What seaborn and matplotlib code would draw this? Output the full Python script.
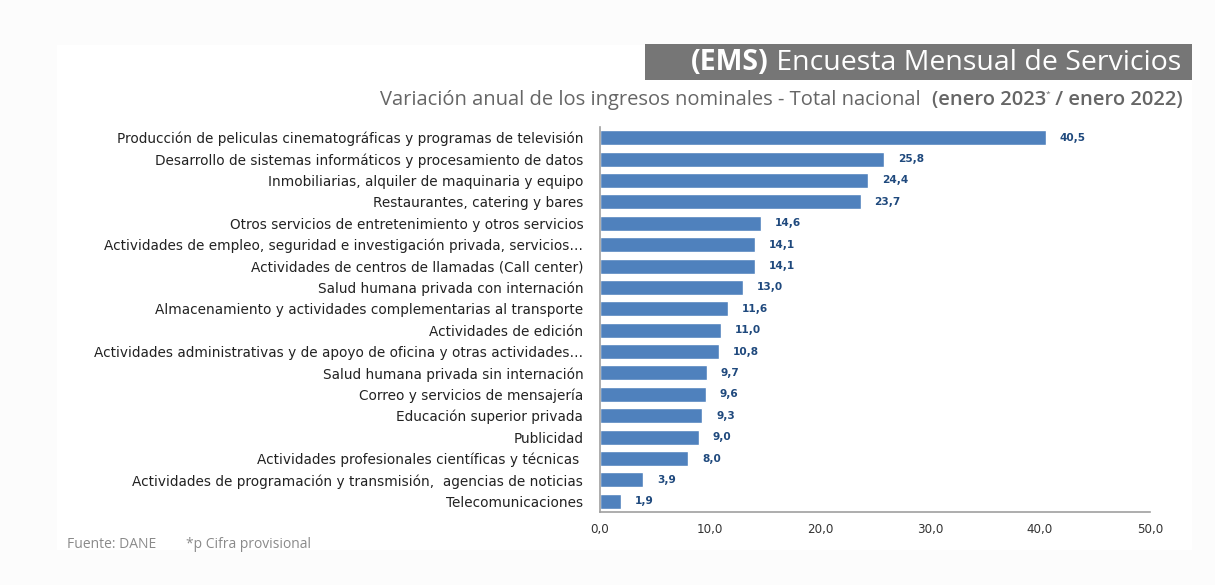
import matplotlib
matplotlib.use("Agg")
import matplotlib.pyplot as plt
import matplotlib.patches as mpatches
import seaborn as sns
import pandas as pd
import numpy as np

# Datos (variacion anual %, enero 2023p / enero 2022)
actividades = [
    "Producción de peliculas cinematográficas y programas de televisión",
    "Desarrollo de sistemas informáticos y procesamiento de datos",
    "Inmobiliarias, alquiler de maquinaria y equipo",
    "Restaurantes, catering y bares",
    "Otros servicios de entretenimiento y otros servicios",
    "Actividades de empleo, seguridad e investigación privada, servicios…",
    "Actividades de centros de llamadas (Call center)",
    "Salud humana privada con internación",
    "Almacenamiento y actividades complementarias al transporte",
    "Actividades de edición",
    "Actividades administrativas y de apoyo de oficina y otras actividades…",
    "Salud humana privada sin internación",
    "Correo y servicios de mensajería",
    "Educación superior privada",
    "Publicidad",
    "Actividades profesionales científicas y técnicas ",
    "Actividades de programación y transmisión,  agencias de noticias",
    "Telecomunicaciones",
]
variacion = [40.5, 25.8, 24.4, 23.7, 14.6, 14.1, 14.1, 13.0, 11.6, 11.0,
             10.8, 9.7, 9.6, 9.3, 9.0, 8.0, 3.9, 1.9]
xticks = [0, 10, 20, 30, 40, 50]

df = pd.DataFrame({"actividad": actividades, "variacion": variacion})

sns.set_style("white")
plt.rcParams['font.family'] = ['DejaVu Sans']

fig = plt.figure(figsize=(12.15, 5.85), dpi=100)
fig.patch.set_facecolor('#fcfcfc')
# panel blanco interior
fig.add_artist(mpatches.Rectangle((57 / 1215, 1 - 550 / 585), (1192 - 57) / 1215, (550 - 45) / 585,
                                  transform=fig.transFigure, facecolor='white', edgecolor='none', zorder=0))

ax = fig.add_axes([600 / 1215, 1 - 512 / 585, 550 / 1215, 385 / 585])
ax.set_facecolor('white')
sns.barplot(data=df, x="variacion", y="actividad", orient="h", color="#4f81bd",
            saturation=1, width=0.7, ax=ax)

etiquetas = [f"{v:.1f}".replace(".", ",") for v in variacion]
ax.bar_label(ax.containers[0], labels=etiquetas, padding=10, fontsize=7.6,
             fontweight='bold', color='#1f497d')

ax.set_xlim(0, 50)
ax.set_ylim(len(actividades) - 0.5, -0.5)
ax.set_xticks(xticks)
ax.set_xticklabels([f"{t:.1f}".replace(".", ",") for t in xticks], fontsize=8.6, color='#333333')
ax.set_xlabel("")
ax.set_ylabel("")
ax.tick_params(axis='y', which='major', length=0, pad=12, labelsize=9.8, labelcolor='#222222')
ax.set_yticks(np.arange(-0.5, len(actividades)), minor=True)
ax.tick_params(axis='y', which='minor', length=4, color='#999999', direction='out')
ax.tick_params(axis='x', length=4, color='#999999', direction='inout', pad=6)

for side in ['top', 'right']:
    ax.spines[side].set_visible(False)
for side in ['left', 'bottom']:
    ax.spines[side].set_color('#a0a0a0')
    ax.spines[side].set_linewidth(1.2)

# Titulo con recuadro gris
fig.add_artist(mpatches.Rectangle((645 / 1215, 1 - 80 / 585), (1192 - 645) / 1215, 36 / 585,
                                  transform=fig.transFigure, facecolor='#767676', edgecolor='none'))

fig.canvas.draw()
renderer = fig.canvas.get_renderer()


def texto_derecha(piezas, x_der, y, **kw):
    """Coloca piezas de texto de derecha a izquierda, alineadas a la derecha."""
    x = x_der
    for texto, props in reversed(piezas):
        opciones = dict(kw)
        opciones.update(props)
        dy = opciones.pop('dy', 0)
        t = fig.text(x / 1215, 1 - (y - dy) / 585, texto, ha='right', va='center', **opciones)
        bb = t.get_window_extent(renderer=renderer)
        x = x - bb.width


texto_derecha([("(EMS)", dict(fontweight='bold')),
               (" Encuesta Mensual de Servicios", dict())],
              1181, 63, fontsize=20.5, color='white', family='Open Sans')

texto_derecha([("Variación anual de los ingresos nominales - Total nacional  ", dict()),
               ("(enero 2023", dict(fontweight='semibold')),
               ("*", dict(fontsize=6, dy=6)),
               (" / enero 2022)", dict(fontweight='semibold'))],
              1183, 100, fontsize=14.5, color='#666666', family='Open Sans')

fig.text(67 / 1215, 1 - 544 / 585, "Fuente: DANE", fontsize=10, color='#8a8a8a',
         family='Open Sans', va='center')
fig.text(186 / 1215, 1 - 544 / 585, "*p Cifra provisional", fontsize=10, color='#8a8a8a',
         family='Open Sans', va='center')

fig.savefig("out.png", dpi=100, facecolor=fig.get_facecolor())
